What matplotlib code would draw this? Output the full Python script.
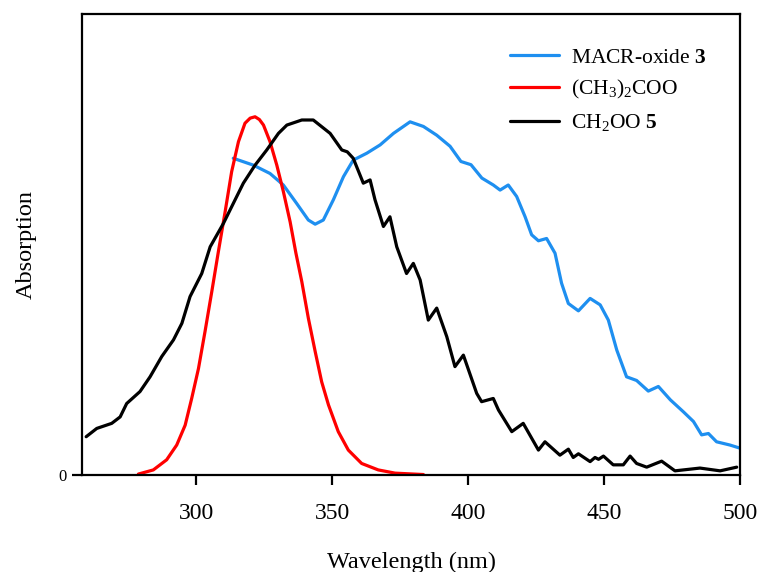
import numpy as np
import matplotlib
matplotlib.use('Agg')
import matplotlib.pyplot as plt

plt.rcParams['font.family'] = ['Liberation Serif', 'DejaVu Serif']
plt.rcParams['mathtext.fontset'] = 'custom'
plt.rcParams['mathtext.rm'] = 'Liberation Serif'
plt.rcParams['mathtext.it'] = 'Liberation Serif:italic'
plt.rcParams['mathtext.bf'] = 'Liberation Serif:bold'

# MACR-oxide 3 (blue)
wl_macr = [313.6, 321.0, 327.1, 332.0, 336.9, 341.2, 343.7, 346.7, 350.4, 354.1,
           357.7, 362.7, 367.6, 372.5, 378.6, 383.5, 388.4, 393.3, 397.3, 401.0,
           405.0, 409.2, 411.7, 414.7, 417.8, 420.9, 423.3, 425.8, 428.8, 431.9,
           434.3, 436.8, 440.5, 444.8, 448.5, 451.5, 454.6, 458.2, 461.9, 466.2,
           469.9, 474.3, 479.1, 482.8, 485.8, 488.3, 491.3, 496.2, 500.0]
abs_macr = [0.687, 0.672, 0.654, 0.629, 0.589, 0.553, 0.544, 0.553, 0.597, 0.647,
            0.683, 0.698, 0.716, 0.741, 0.766, 0.756, 0.737, 0.713, 0.680, 0.673,
            0.644, 0.629, 0.618, 0.629, 0.604, 0.560, 0.521, 0.508, 0.513, 0.481,
            0.416, 0.372, 0.356, 0.383, 0.369, 0.336, 0.271, 0.213, 0.205, 0.182,
            0.192, 0.163, 0.137, 0.116, 0.087, 0.090, 0.072, 0.065, 0.058]

# (CH3)2COO (red)
wl_dmco = [278.7, 284.2, 289.1, 292.8, 295.9, 298.3, 300.8, 303.2, 305.7, 308.1,
           310.6, 313.0, 315.5, 317.9, 319.8, 321.6, 323.2, 324.7, 327.1, 329.6,
           332.0, 334.5, 336.6, 338.8, 341.2, 343.7, 346.1, 348.6, 352.2, 355.9,
           360.8, 366.9, 373.1, 383.5]
abs_dmco = [0.002, 0.011, 0.033, 0.065, 0.108, 0.166, 0.231, 0.311, 0.398, 0.484,
            0.571, 0.658, 0.723, 0.763, 0.774, 0.777, 0.771, 0.759, 0.723, 0.672,
            0.615, 0.549, 0.482, 0.419, 0.340, 0.268, 0.202, 0.152, 0.094, 0.054,
            0.025, 0.011, 0.004, 0.001]

# CH2OO 5 (black)
wl_ch2oo = [259.5, 263.4, 268.9, 272.0, 274.4, 279.3, 283.0, 287.3, 291.6, 294.7,
            297.7, 302.0, 305.1, 310.0, 313.6, 317.3, 321.6, 325.9, 330.2, 333.3,
            338.8, 343.0, 349.2, 353.5, 355.5, 357.7, 361.4, 363.9, 365.7, 368.8,
            371.2, 373.7, 377.3, 379.8, 382.3, 385.3, 388.4, 392.1, 395.1, 398.2,
            403.1, 404.9, 409.2, 411.1, 416.0, 420.2, 425.8, 428.2, 433.7, 436.8,
            438.6, 440.5, 444.8, 446.6, 447.9, 449.7, 453.3, 457.0, 459.5, 461.9,
            465.6, 471.1, 476.0, 485.2, 492.6, 498.7]
abs_ch2oo = [0.083, 0.101, 0.112, 0.126, 0.155, 0.181, 0.213, 0.257, 0.293, 0.329,
             0.387, 0.437, 0.495, 0.546, 0.589, 0.633, 0.672, 0.705, 0.741, 0.759,
             0.770, 0.770, 0.741, 0.705, 0.701, 0.687, 0.633, 0.640, 0.597, 0.539,
             0.560, 0.495, 0.437, 0.459, 0.423, 0.336, 0.362, 0.300, 0.235, 0.260,
             0.177, 0.159, 0.166, 0.141, 0.094, 0.112, 0.054, 0.072, 0.043, 0.056,
             0.038, 0.046, 0.029, 0.038, 0.034, 0.041, 0.022, 0.022, 0.041, 0.025,
             0.017, 0.030, 0.009, 0.015, 0.009, 0.017]

fig = plt.figure(figsize=(7.6, 5.72), dpi=100)
ax = fig.add_axes([0.108, 0.1696, 0.866, 0.806])

style = dict(lw=2.3, solid_joinstyle='round', solid_capstyle='round')
ax.plot(wl_macr, abs_macr, color='#1e8ff0', label=r'MACR-oxide $\mathbf{3}$', **style)
ax.plot(wl_dmco, abs_dmco, color='#ff0000', label=r'(CH$_3$)$_2$COO', **style)
ax.plot(wl_ch2oo, abs_ch2oo, color='black', label=r'CH$_2$OO $\mathbf{5}$', **style)

ax.set_xlim(258, 500)
ax.set_ylim(0, 1.0)
ax.set_xticks([300, 350, 400, 450, 500])
ax.set_yticks([0])
for s in ax.spines.values():
    s.set_linewidth(1.6)
ax.tick_params(axis='x', direction='out', length=7, width=1.6, pad=13, labelsize=17)
ax.tick_params(axis='y', direction='out', length=7, width=1.6, pad=4, labelsize=12)

ax.set_xlabel('Wavelength (nm)', fontsize=17.5, labelpad=20)
ax.set_ylabel('Absorption', fontsize=17.5, labelpad=16)

ax.legend(loc='upper left', bbox_to_anchor=(0.671, 0.917), bbox_transform=fig.transFigure,
          frameon=False, fontsize=15.5, handlelength=2.3, handletextpad=0.55,
          labelspacing=0.5, borderpad=0, borderaxespad=0)

fig.savefig('out.png', dpi=100)
